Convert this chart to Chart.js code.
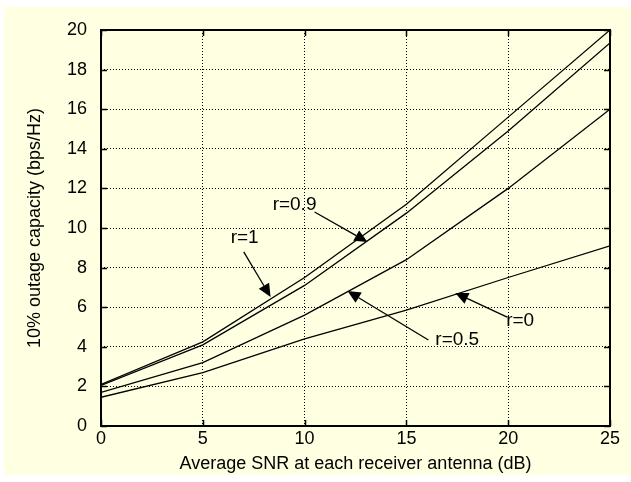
<!DOCTYPE html>
<html>
<head>
<meta charset="utf-8">
<script src="https://cdn.jsdelivr.net/npm/chart.js@4.4.0/dist/chart.umd.min.js"></script>
<style>
  body { margin: 0; background: #fff; }
  canvas { display: block; }
</style>
</head>
<body>
<canvas id="myChart" width="631" height="482"></canvas>
<script>
// SNR points (dB) and outage capacity per correlation value
var snr = [0, 5, 10, 15, 20, 25]
var capR1  = [2.1, 4.25, 7.5, 11.2, 15.6, 20.0]
var capR09 = [2.05, 4.1, 7.1, 10.75, 14.9, 19.35]
var capR05 = [1.7, 3.2, 5.6, 8.4, 12.0, 16.0]
var capR0  = [1.45, 2.7, 4.4, 5.85, 7.5, 9.1]

// curve labels: text anchor, arrow tail, arrow tip (data units)
var noteText = ['r=0.9', 'r=1', 'r=0.5', 'r=0']
var noteAt   = [[8.43, 11.16], [6.37, 9.49], [16.42, 4.34], [19.9, 5.3]]
var noteTail = [[10.49, 10.81], [7.01, 8.79], [16.08, 4.34], [19.95, 5.5]]
var noteTip  = [[13.09, 9.29], [8.33, 6.52], [12.11, 6.82], [17.4, 6.72]]

var FONT = '"Liberation Sans", Arial, sans-serif'

function pts(ys) {
    return snr.map(function(x, i) { return {x: x, y: ys[i]} })
}

function lineSet(ys) {
    return {
        data: pts(ys),
        borderColor: '#000',
        borderWidth: 1.3,
        pointRadius: 0,
        tension: 0,
        fill: false
    }
}

var figure = {
    id: 'figure',
    beforeDraw: function(chart) {
        var c = chart.ctx
        c.save()
        c.fillStyle = '#fff'
        c.fillRect(0, 0, chart.width, chart.height)
        c.fillStyle = '#ffffe1'
        c.fillRect(4, 7, chart.width - 4, 468)
        c.restore()
    },
    afterDraw: function(chart) {
        var c = chart.ctx
        var a = chart.chartArea
        var xs = chart.scales.x, ys = chart.scales.y
        c.save()
        // inward ticks on all four sides
        c.strokeStyle = '#000'
        c.lineWidth = 1.5
        c.beginPath()
        xs.ticks.forEach(function(t) {
            var px = Math.round(xs.getPixelForValue(t.value)) + 0.5
            c.moveTo(px, a.bottom); c.lineTo(px, a.bottom - 6)
            c.moveTo(px, a.top); c.lineTo(px, a.top + 6)
        })
        ys.ticks.forEach(function(t) {
            var py = Math.round(ys.getPixelForValue(t.value)) + 0.5
            c.moveTo(a.left, py); c.lineTo(a.left + 6, py)
            c.moveTo(a.right, py); c.lineTo(a.right - 6, py)
        })
        c.stroke()
        // frame
        c.lineWidth = 2
        c.strokeRect(a.left, a.top, a.right - a.left, a.bottom - a.top)

        // curve labels with arrows
        c.fillStyle = '#000'
        c.lineWidth = 1.3
        c.font = '19px ' + FONT
        c.textAlign = 'left'
        c.textBaseline = 'middle'
        for (var i = 0; i < noteText.length; i++) {
            c.fillText(noteText[i], xs.getPixelForValue(noteAt[i][0]), ys.getPixelForValue(noteAt[i][1]))
            var x0 = xs.getPixelForValue(noteTail[i][0]), y0 = ys.getPixelForValue(noteTail[i][1])
            var x1 = xs.getPixelForValue(noteTip[i][0]), y1 = ys.getPixelForValue(noteTip[i][1])
            var ang = Math.atan2(y1 - y0, x1 - x0)
            var len = 13, half = 6
            var bx = x1 - len * Math.cos(ang), by = y1 - len * Math.sin(ang)
            c.beginPath()
            c.moveTo(x0, y0); c.lineTo(bx, by)
            c.stroke()
            c.beginPath()
            c.moveTo(x1, y1)
            c.lineTo(bx + half * Math.sin(ang), by - half * Math.cos(ang))
            c.lineTo(bx - half * Math.sin(ang), by + half * Math.cos(ang))
            c.closePath()
            c.fill()
        }
        c.restore()
    }
}

var ctx = document.getElementById('myChart')

var myChart = new Chart(ctx, {
    type: 'line',
    data: {
        datasets: [lineSet(capR1), lineSet(capR09), lineSet(capR05), lineSet(capR0)]
    },
    options: {
        responsive: false,
        animation: false,
        devicePixelRatio: 1,
        layout: { padding: { top: 30, right: 21, left: 0, bottom: 0 } },
        plugins: {
            legend: { display: false },
            tooltip: { enabled: false }
        },
        scales: {
            x: {
                type: 'linear',
                min: 0,
                max: 25,
                afterFit: function(s) { s.height = 56 },
                ticks: { stepSize: 5, color: '#000', padding: 2, font: { family: FONT, size: 18 } },
                grid: { color: '#000', lineWidth: 1, drawTicks: false },
                border: { display: false, dash: [1, 2] },
                title: {
                    display: true,
                    text: 'Average SNR at each receiver antenna (dB)',
                    color: '#000',
                    font: { family: FONT, size: 18 },
                    padding: { top: 0, bottom: 7 }
                }
            },
            y: {
                min: 0,
                max: 20,
                afterFit: function(s) { s.width = 101 },
                ticks: { stepSize: 2, color: '#000', padding: 14, font: { family: FONT, size: 18 } },
                grid: { color: '#000', lineWidth: 1, drawTicks: false },
                border: { display: false, dash: [1, 2] },
                title: {
                    display: true,
                    text: '10% outage capacity (bps/Hz)',
                    color: '#000',
                    font: { family: FONT, size: 18 },
                    padding: { top: 24, bottom: 0 }
                }
            }
        }
    },
    plugins: [figure]
})
</script>
</body>
</html>
